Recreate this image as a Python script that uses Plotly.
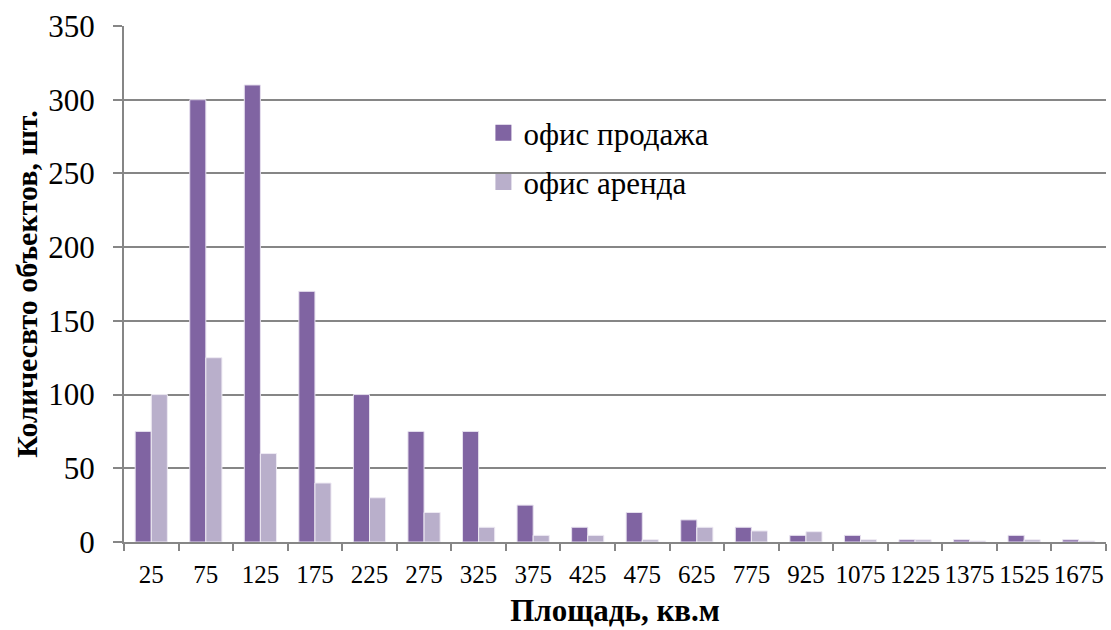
import plotly.graph_objects as go

# Area bins (sq. m) and object counts
areas = ["25", "75", "125", "175", "225", "275", "325", "375", "425", "475",
         "625", "775", "925", "1075", "1225", "1375", "1525", "1675"]
office_sale = [75, 300, 310, 170, 100, 75, 75, 25, 10, 20,
               15, 10, 4.5, 4.5, 1.5, 1.5, 4.5, 1.5]
office_rent = [100, 125, 60, 40, 30, 20, 10, 4.5, 4.5, 1.5,
               10, 7.5, 7, 1.5, 1.5, 0.7, 1.5, 0.7]

names = ["офис продажа", "офис аренда"]
colors = ["#8064A2", "#B9AFCB"]
edges = ["#E6E0EE", "#EEEAF3"]

fig = go.Figure()
for vals, name, col, edge in zip([office_sale, office_rent], names, colors, edges):
    fig.add_trace(go.Bar(
        x=areas, y=vals, name=name, showlegend=False,
        marker=dict(color=col, line=dict(color=edge, width=1))
    ))

# legend entries with bigger square swatches
for i, (name, col) in enumerate(zip(names, colors)):
    fig.add_trace(go.Scatter(
        x=[None], y=[None], mode="markers", name=name, legendgroup=str(i),
        marker=dict(symbol="square", size=17, color=col)
    ))

fig.update_layout(
    width=1111, height=630,
    margin=dict(l=124, r=5, t=26, b=88),
    paper_bgcolor="white", plot_bgcolor="white",
    font=dict(family="Liberation Serif, Times New Roman, serif", color="black"),
    barmode="group", bargap=0.41, bargroupgap=0,
    showlegend=True,
    legend=dict(
        x=0.366, y=0.845, xanchor="left", yanchor="top",
        font=dict(size=31), tracegroupgap=6, traceorder="grouped",
        itemwidth=30, bgcolor="rgba(0,0,0,0)"
    ),
    xaxis=dict(
        title=dict(text="<b>Площадь, кв.м</b>", font=dict(size=31), standoff=12),
        tickfont=dict(size=25), ticklabelstandoff=9, tickangle=0,
        automargin=False,
        showline=True, linecolor="#868686", linewidth=2,
        ticks="outside", tickson="boundaries", ticklen=7, tickcolor="#868686", tickwidth=2,
        showgrid=False
    ),
    yaxis=dict(
        title=dict(text="<b>Количесвто объектов, шт.</b>", font=dict(size=30), standoff=2),
        range=[0, 350], dtick=50,
        tickfont=dict(size=31), ticklabelstandoff=12,
        automargin=False,
        showline=True, linecolor="#868686", linewidth=2,
        showgrid=True, gridcolor="#868686", gridwidth=2,
        ticks="outside", ticklen=9, tickcolor="#868686", tickwidth=2,
        zeroline=False
    ),
)

fig.write_html(
    "out.html",
    config={"displayModeBar": False},
    post_script="document.body.style.margin='0';document.body.style.overflow='hidden';",
)
